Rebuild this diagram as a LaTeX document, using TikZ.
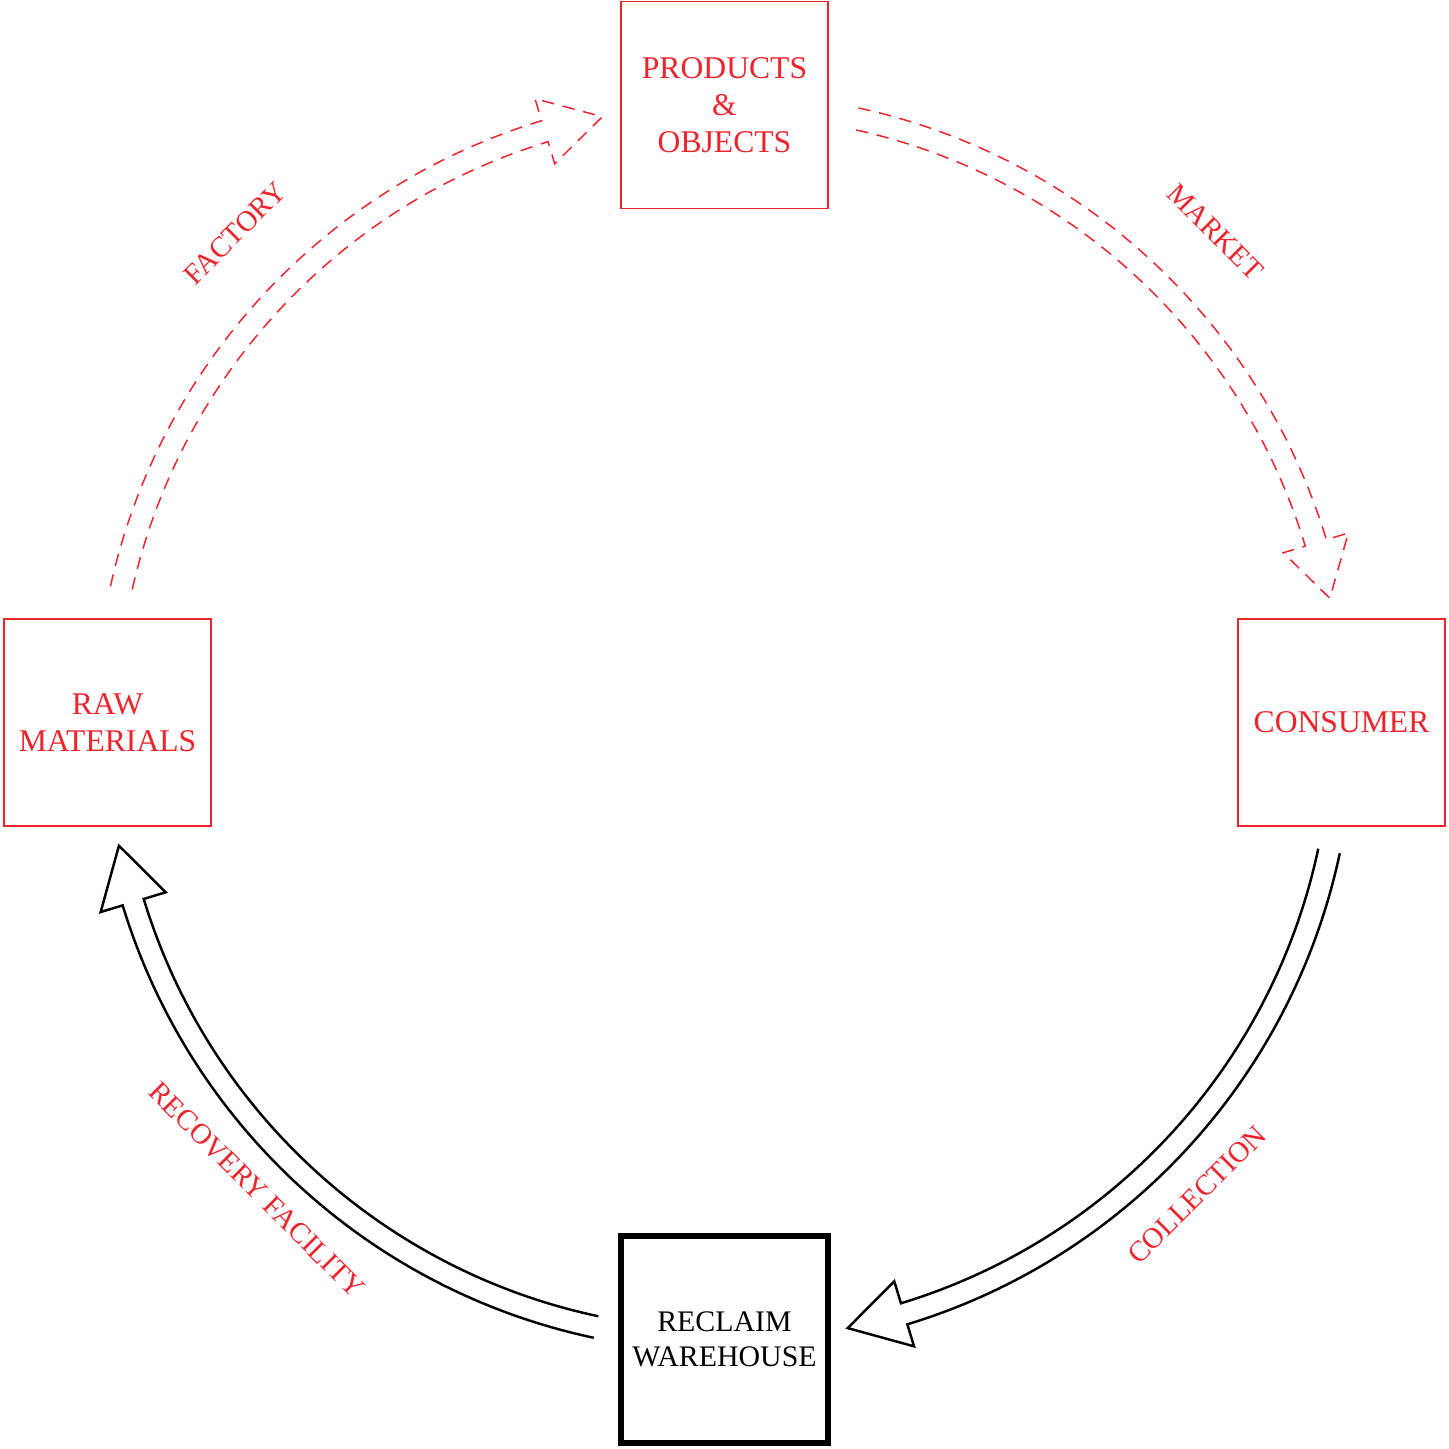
\documentclass[tikz,border=0pt]{standalone}
\usepackage{fontspec}
\setmainfont{Liberation Serif}
\usetikzlibrary{calc}
\definecolor{cyclered}{RGB}{236,36,44}

% hollow arrow along the ring round (hub): #1 style, #2 start, #3 head base, #4 tip angle
\newcommand{\ringarrow}[4]{%
  \draw[#1] ($(hub)+(#2:629)$) arc[start angle=#2, end angle=#3, radius=629]
    -- ($(hub)+(#3:652)$) -- ($(hub)+(#4:618)$) -- ($(hub)+(#3:584)$)
    -- ($(hub)+(#3:607)$) arc[start angle=#3, end angle=#2, radius=607];}

\begin{document}
\begin{tikzpicture}[x=0.02cm, y=0.02cm,
    box/.style={draw=cyclered, text=cyclered, line width=0.85pt, minimum size=4.14cm,
      inner sep=0pt, align=center, font=\fontsize{18}{21}\selectfont},
    reclaimbox/.style={box, draw=black, text=black, line width=3.2pt,
      font=\fontsize{17}{20}\selectfont},
    flowlabel/.style={text=cyclered, inner sep=0pt, font=\fontsize{16.5}{20}\selectfont},
    supply/.style={draw=cyclered, line width=0.85pt, dash pattern=on 7pt off 5pt},
    recovery/.style={draw=black, line width=1.4pt, line join=miter}]
        \useasboundingbox (0,0) rectangle (1449,-1449);
        \coordinate (hub) at (724.5,-722.5);

        % Stations
        \node[box] (products) at (724.5,-105) {PRODUCTS\\\&\\OBJECTS};
        \node[box] (raw) at (107.5,-722.5) {RAW\\MATERIALS};
        \node[box] (consumer) at (1341.5,-722.5) {CONSUMER};
        \node[reclaimbox] (warehouse) at (724.5,-1339.5) {RECLAIM\\WAREHOUSE};

        % Flows round the ring
        \ringarrow{supply}{167.5}{106.9}{101.4}
        \ringarrow{supply}{77.7}{16.9}{11.6}
        \ringarrow{recovery}{-12}{-73.1}{-78.5}
        \ringarrow{recovery}{-102}{-163.1}{-168.5}

        \node[flowlabel, rotate=45] (factory) at ($(hub)+(135:692)$) {FACTORY};
        \node[flowlabel, rotate=-45] (market) at ($(hub)+(45:694)$) {MARKET};
        \node[flowlabel, rotate=45] (collection) at ($(hub)+(-45:668)$) {COLLECTION};
        \node[flowlabel, rotate=-45] (recoveryfac) at ($(hub)+(-135:661)$) {RECOVERY FACILITY};
    \end{tikzpicture}
\end{document}
